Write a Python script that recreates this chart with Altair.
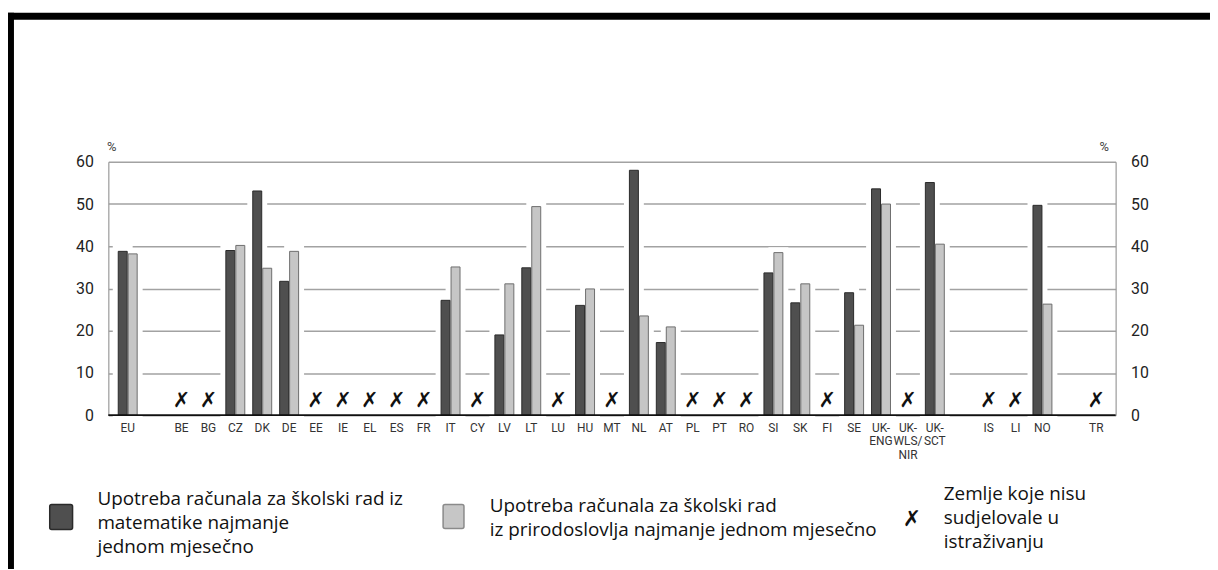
import altair as alt
import pandas as pd

# ---- data ----
categories = ["EU", " ", "BE", "BG", "CZ", "DK", "DE", "EE", "IE", "EL", "ES", "FR",
              "IT", "CY", "LV", "LT", "LU", "HU", "MT", "NL", "AT", "PL", "PT", "RO",
              "SI", "SK", "FI", "SE", "UK-ENG", "UK-WLS/NIR", "UK-SCT", "  ",
              "IS", "LI", "NO", "   ", "TR"]
countries = ["EU", "CZ", "DK", "DE", "IT", "LV", "LT", "HU", "NL", "AT", "SI", "SK",
             "SE", "UK-ENG", "UK-SCT", "NO"]
math = [38.8, 39.0, 53.1, 31.7, 27.2, 19.0, 34.9, 26.0, 58.0, 17.2, 33.7, 26.6,
        29.0, 53.6, 55.1, 49.7]
science = [38.2, 40.2, 34.8, 38.8, 35.1, 31.1, 49.4, 29.9, 23.5, 20.9, 38.5, 31.1,
           21.3, 50.0, 40.5, 26.3]
not_participating = ["BE", "BG", "EE", "IE", "EL", "ES", "FR", "CY", "LU", "MT", "PL",
                     "PT", "RO", "FI", "UK-WLS/NIR", "IS", "LI", "TR"]
y_ticks = [0, 10, 20, 30, 40, 50, 60]
series_keys = ["math", "science"]
legend_math = ["Upotreba računala za školski rad iz", "matematike najmanje", "jednom mjesečno"]
legend_science = ["Upotreba računala za školski rad", "iz prirodoslovlja najmanje jednom mjesečno"]
legend_x = ["Zemlje koje nisu", "sudjelovale u", "istraživanju"]

# ---- tables ----
rows = []
for c, m, s in zip(countries, math, science):
    rows.append({"country": c, "series": "math", "value": m})
    rows.append({"country": c, "series": "science", "value": s})
bars_df = pd.DataFrame(rows)
x_df = pd.DataFrame({"country": not_participating, "zero": [0] * len(not_participating)})
one = pd.DataFrame({"k": [0]})

AXIS_FONT = "Roboto, Liberation Sans Narrow, DejaVu Sans Condensed, sans-serif"
TEXT_FONT = "Open Sans, DejaVu Sans, sans-serif"
DARK, LIGHT = "#4f4f4f", "#c6c6c6"
DARK_S, LIGHT_S = "#2a2a2a", "#6e6e6e"

x_axis = alt.Axis(
    title=None, labelAngle=0, domain=False, ticks=False, labelPadding=7,
    labelFont=AXIS_FONT, labelFontSize=12, labelColor="#333333",
    labelBaseline="top", labelLineHeight=14, zindex=1,
    labelExpr="split(replace(replace(datum.label, 'UK-', 'UK-|'), 'WLS/', 'WLS/|'), '|')",
)
x_enc = alt.X("country:N", scale=alt.Scale(domain=categories, paddingInner=0,
                                              paddingOuter=0.22), axis=x_axis)
x_off = alt.XOffset("series:N", scale=alt.Scale(domain=series_keys, paddingInner=0.1,
                                                  paddingOuter=0.4))
y_scale = alt.Scale(domain=[0, 60], nice=False)

left_axis = alt.Axis(
    values=y_ticks, grid=True, gridColor="#a2a2a2", gridWidth=1.5, domain=True,
    domainColor="#9a9a9a", domainWidth=1.2, ticks=False, labelPadding=15,
    labelFont=AXIS_FONT, labelFontSize=16, labelColor="#222222",
    title="%", titleAngle=0, titleX=3, titleY=-15, titleAlign="center",
    titleBaseline="middle", titleFont=AXIS_FONT, titleFontSize=13,
    titleFontWeight="normal", titleColor="#444444",
)
right_axis = alt.Axis(
    orient="right", values=y_ticks, grid=False, domain=True, domainColor="#9a9a9a",
    domainWidth=1.2, ticks=False, labelPadding=15, labelFont=AXIS_FONT,
    labelFontSize=16, labelColor="#222222",
    title="%", titleAngle=0, titleX=-12, titleY=-15, titleAlign="center",
    titleBaseline="middle", titleFont=AXIS_FONT, titleFontSize=13,
    titleFontWeight="normal", titleColor="#444444",
)

# white halo behind bars (breaks the gridlines around the bars)
halo = alt.Chart(bars_df).mark_bar(color="white", stroke="white", strokeWidth=11).encode(
    x=x_enc, xOffset=x_off,
    y=alt.Y("value:Q", scale=y_scale, axis=left_axis),
)

bars = alt.Chart(bars_df).mark_bar(strokeWidth=1).encode(
    x=x_enc, xOffset=x_off,
    y=alt.Y("value:Q", scale=y_scale, axis=right_axis),
    fill=alt.Fill("series:N", scale=alt.Scale(domain=series_keys, range=[DARK, LIGHT]),
                  legend=None),
    stroke=alt.Stroke("series:N", scale=alt.Scale(domain=series_keys, range=[DARK_S, LIGHT_S]),
                      legend=None),
)

baseline = alt.Chart(one).mark_rule(color="#111111", strokeWidth=1.6).encode(
    y=alt.Y("k:Q", scale=y_scale, axis=None),
)

xmarks = alt.Chart(x_df).mark_text(
    text="✗", font="DejaVu Sans", fontSize=21, fontWeight="bold",
    baseline="bottom", dy=-4, color="#111111",
).encode(
    x=x_enc,
    y=alt.Y("zero:Q", scale=y_scale, axis=None),
)

# ---- custom legend & frame (decoration) ----
sq_dark = alt.Chart(one).mark_rect(fill=DARK, stroke=DARK_S, strokeWidth=1.5,
                                   cornerRadius=2).encode(
    x=alt.value(-59), x2=alt.value(-36), y=alt.value(345), y2=alt.value(370))
sq_light = alt.Chart(one).mark_rect(fill=LIGHT, stroke="#8a8a8a", strokeWidth=1.5,
                                    cornerRadius=2).encode(
    x=alt.value(337), x2=alt.value(358), y=alt.value(345), y2=alt.value(369))
txt_kw = dict(font=TEXT_FONT, fontSize=19, align="left", baseline="middle",
              lineHeight=24.5, color="#111111")
t1 = alt.Chart(one).mark_text(**txt_kw).encode(
    x=alt.value(-11), y=alt.value(339), text=alt.value(legend_math))
t2 = alt.Chart(one).mark_text(**txt_kw).encode(
    x=alt.value(384), y=alt.value(346), text=alt.value(legend_science))
xm = alt.Chart(one).mark_text(text="✗", font="DejaVu Sans", fontSize=22,
                              fontWeight="bold", color="#111111").encode(
    x=alt.value(809), y=alt.value(360))
t3 = alt.Chart(one).mark_text(**txt_kw).encode(
    x=alt.value(841), y=alt.value(334), text=alt.value(legend_x))

frame_top = alt.Chart(one).mark_rect(color="black").encode(
    x=alt.value(-101), x2=alt.value(1109), y=alt.value(-150), y2=alt.value(-143))
frame_left = alt.Chart(one).mark_rect(color="black").encode(
    x=alt.value(-101), x2=alt.value(-95), y=alt.value(-150), y2=alt.value(410))

chart = alt.layer(
    halo, bars, baseline, xmarks, sq_dark, sq_light, t1, t2, xm, t3, frame_top, frame_left
).resolve_axis(y="independent").properties(
    width=1014, height=255,
    padding={"left": 101, "top": 153, "right": 95, "bottom": 153},
    autosize=alt.AutoSizeParams(type="none"),
    background="white",
).configure_view(stroke=None)

chart.save("out.html", embed_options={"renderer": "svg", "actions": False})
